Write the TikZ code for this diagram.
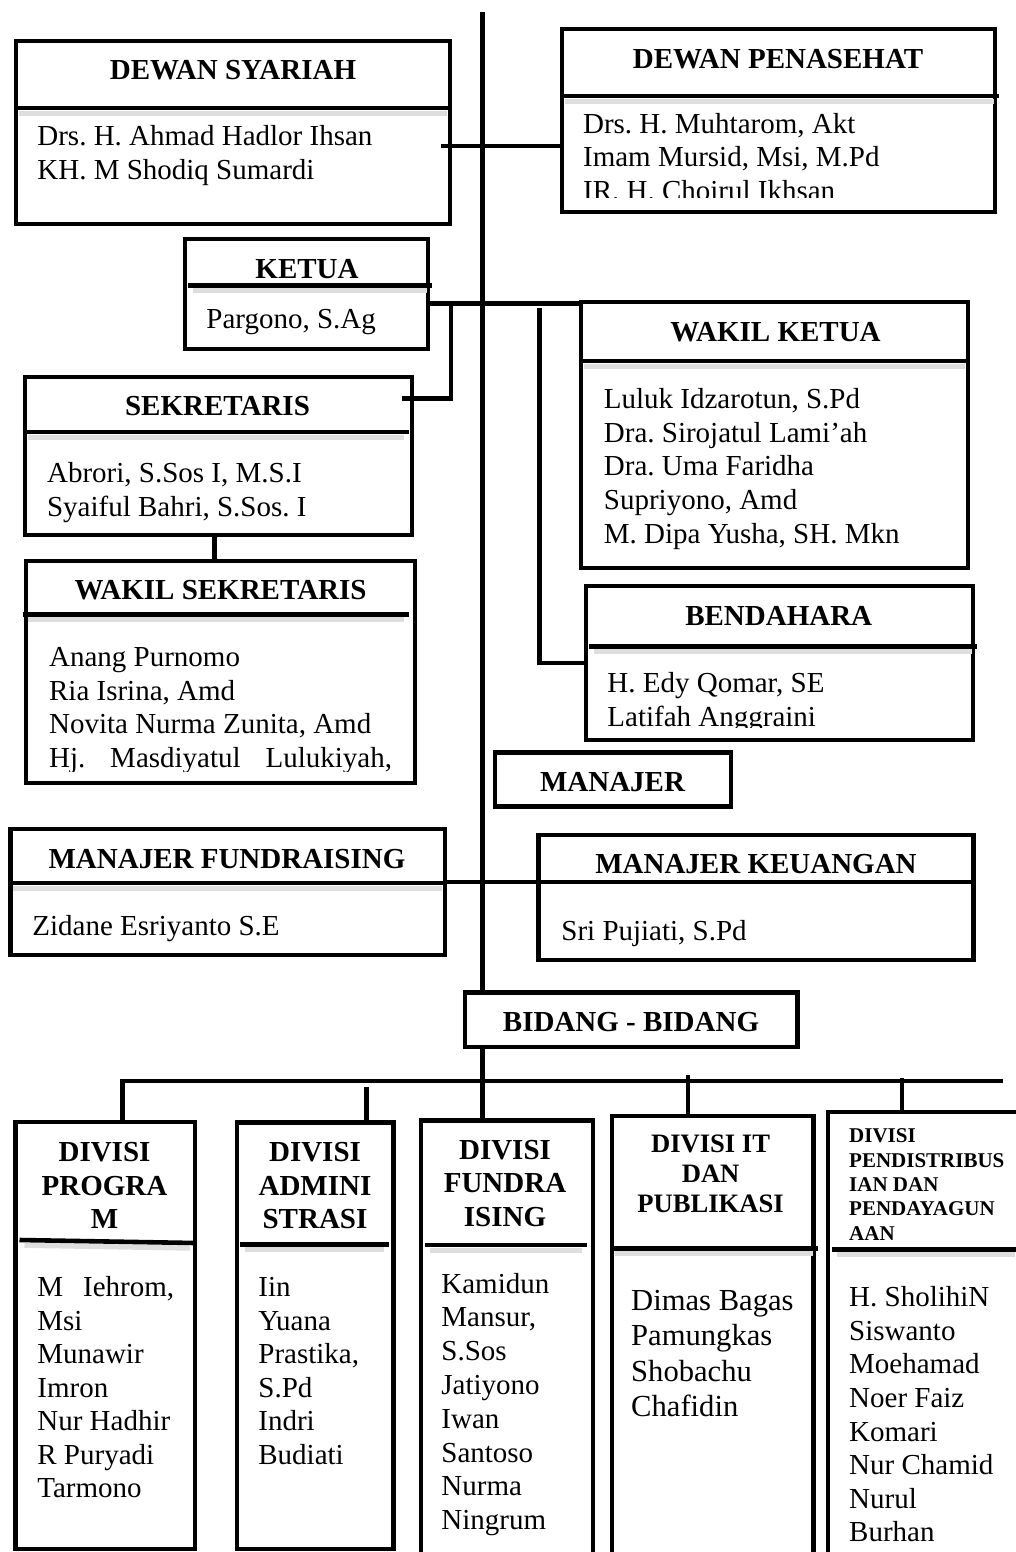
\documentclass[tikz,border=0pt]{standalone}
\usepackage{fontspec}
\setmainfont{Liberation Serif}
\usetikzlibrary{fit}

\newcommand{\bodysize}{\fontsize{14.5}{16.75}\selectfont}
\frenchspacing

\begin{document}
\begin{tikzpicture}[x=0.5pt, y=-0.5pt,
    unitbox/.style={draw, line width=2.2pt, inner sep=0pt},
    divline/.style={line width=2.3pt, preaction={draw=black!13, line width=2.6pt, shorten <=2.5pt, shorten >=2.5pt, transform canvas={yshift=-2.6pt}}},
    linkline/.style={line width=2.2pt},
    spineline/.style={line width=2.1pt},
    headtext/.style={font=\bodysize\bfseries, inner sep=0pt, anchor=base},
    listtext/.style={font=\bodysize, align=left, inner sep=0pt, anchor=base west}]
    \useasboundingbox (0,0) rectangle (1016,1552);
    \coordinate (spinetop) at (482.5,12.5);

    \node[unitbox, fit={(16,41) (450,224)}] (syariah) {};
    \draw[divline] (syariah.west |- 0,108) -- (syariah.east |- 0,108);
    \node[headtext] (syariahhead) at (233,79.3) {DEWAN SYARIAH};
    \node[listtext] (syariahlist) at (37,179.2) {Drs. H. Ahmad Hadlor Ihsan\\KH. M Shodiq Sumardi};

    \node[unitbox, fit={(562,29) (995,212)}] (penasehat) {};
    \draw[divline] (penasehat.west |- 0,96) -- (999,96);
    \node[headtext] (penasehathead) at (778,68.3) {DEWAN PENASEHAT};
    \begin{scope}
        \clip (564,100) rectangle (993,197);
        \node[listtext] (penasehatlist) at (582.7,200.3) {Drs. H. Muhtarom, Akt\\Imam Mursid, Msi, M.Pd\\IR. H. Choirul Ikhsan};
    \end{scope}

    \node[unitbox, fit={(185,239) (428,349)}] (ketua) {};
    \draw[divline] (188,285.5) -- (431.5,285.5);
    \node[headtext] (ketuahead) at (307,278.5) {KETUA};
    \node[listtext] (ketualist) at (206,328.5) {Pargono, S.Ag};

    \node[unitbox, fit={(581,302) (968,568)}] (wakilketua) {};
    \draw[divline] (wakilketua.west |- 0,361) -- (wakilketua.east |- 0,361);
    \node[headtext] (wakilketuahead) at (775.5,341.7) {WAKIL KETUA};
    \node[listtext, font=\fontsize{14.5}{16.85}\selectfont] (wakilketualist) at (603.5,543.1) {Luluk Idzarotun, S.Pd\\Dra. Sirojatul Lami’ah\\Dra. Uma Faridha\\Supriyono, Amd\\M. Dipa Yusha, SH. Mkn};

    \node[unitbox, fit={(25,377) (412,535)}] (sekretaris) {};
    \draw[divline] (22.7,432) -- (409,432);
    \node[headtext] (sekretarishead) at (217.5,415) {SEKRETARIS};
    \node[listtext] (sekretarislist) at (46.7,516.2) {Abrori, S.Sos I, M.S.I\\Syaiful Bahri, S.Sos. I};

    \node[unitbox, fit={(26,561) (415,783)}] (wakilsek) {};
    \draw[divline] (22.7,614.5) -- (409,614.5);
    \node[headtext] (wakilsekhead) at (220.6,599.5) {WAKIL SEKRETARIS};
    \begin{scope}
        \clip (28,620) rectangle (413,771);
        \node[listtext] (wakilseklist) at (48.7,767.2) {Anang Purnomo\\Ria Isrina, Amd\\Novita Nurma Zunita, Amd\\\makebox[171.5pt][s]{Hj. Masdiyatul Lulukiyah,}};
    \end{scope}

    \node[unitbox, fit={(586,586) (973,740)}] (bendahara) {};
    \draw[divline] (589,646.5) -- (977,646.5);
    \node[headtext] (bendaharahead) at (778.7,625) {BENDAHARA};
    \begin{scope}
        \clip (588,650) rectangle (971,727);
        \node[listtext] (bendaharalist) at (607,726.2) {H. Edy Qomar, SE\\Latifah Anggraini};
    \end{scope}

    \node[unitbox, fit={(495,752.5) (731,806.5)}] (manajer) {};
    \node[headtext] (manajerhead) at (612.5,791.7) {MANAJER};

    \node[unitbox, fit={(10.5,829) (445,955)}] (mfund) {};
    \draw[divline] (mfund.west |- 0,883) -- (mfund.east |- 0,883);
    \node[headtext] (mfundhead) at (227,868) {MANAJER FUNDRAISING};
    \node[listtext] (mfundlist) at (32,935) {Zidane Esriyanto S.E};

    \node[unitbox, fit={(538.6,835) (973.4,960)}] (keuangan) {};
    \node[headtext] (keuanganhead) at (756,873) {MANAJER KEUANGAN};
    \node[listtext] (keuanganlist) at (561,940) {Sri Pujiati, S.Pd};

    \node[unitbox, fit={(465,992.5) (797.5,1047)}] (bidang) {};
    \node[headtext] (bidanghead) at (631,1031.7) {BIDANG - BIDANG};

    \node[unitbox, fit={(15.5,1122) (195,1549)}] (dprog) {};
    \draw[divline] (19.5,1240) -- (195,1243);
    \node[headtext, align=center] (dproghead) at (104.5,1228.7) {DIVISI\\PROGRA\\M};
    \node[listtext] (dproglist) at (37,1497.7) {M\hspace{10pt}Iehrom,\\Msi\\Munawir\\Imron\\Nur Hadhir\\R Puryadi\\Tarmono};

    \node[unitbox, fit={(237,1122.5) (393.5,1549)}] (dadmin) {};
    \draw[divline] (240,1244.5) -- (389,1244.5);
    \node[headtext, align=center] (dadminhead) at (315,1228.7) {DIVISI\\ADMINI\\STRASI};
    \node[listtext] (dadminlist) at (258,1464.2) {Iin\\Yuana\\Prastika,\\S.Pd\\Indri\\Budiati};

    \node[unitbox, fit={(421,1120.5) (593,1562)}] (dfund) {};
    \draw[divline] (425,1245) -- (587,1245);
    \node[headtext, align=center] (dfundhead) at (505,1226) {DIVISI\\FUNDRA\\ISING};
    \node[listtext, font=\fontsize{14.5}{16.9}\selectfont] (dfundlist) at (441,1529.6) {Kamidun\\Mansur,\\S.Sos\\Jatiyono\\Iwan\\Santoso\\Nurma\\Ningrum};

    \node[unitbox, fit={(612,1116) (813.5,1562)}] (dit) {};
    \draw[divline] (610,1248.5) -- (817.6,1248.5);
    \node[headtext, align=center, font=\fontsize{13.3}{15}\selectfont\bfseries] (dithead) at (710.6,1212.7) {DIVISI IT\\DAN\\PUBLIKASI};
    \node[listtext, font=\fontsize{15.3}{17.75}\selectfont] (ditlist) at (630.8,1416.5) {Dimas Bagas\\Pamungkas\\Shobachu\\Chafidin};

    \node[unitbox, fit={(828,1112) (1030,1562)}] (ddist) {};
    \draw[divline] (832,1249.5) -- (1020,1249.5);
    \node[headtext, anchor=base west, align=left, font=\fontsize{10.5}{12.2}\selectfont\bfseries] (ddisthead) at (848.8,1240.3) {DIVISI\\PENDISTRIBUS\\IAN DAN\\PENDAYAGUN\\AAN};
    \node[listtext, font=\fontsize{14.5}{16.8}\selectfont] (ddistlist) at (848.8,1541.9) {H. SholihiN\\Siswanto\\Moehamad\\Noer Faiz\\Komari\\Nur Chamid\\Nurul\\Burhan};

    \coordinate (mjoin) at (445,882);
    \draw[linkline] (mjoin) -- (mjoin -| keuangan.east);
    \draw[spineline] (spinetop) -- (spinetop |- bidang.north);
    \draw[spineline] (spinetop |- bidang.south) -- (spinetop |- dfund.north);
    \coordinate (syjoin) at (441,146);
    \draw[linkline] (syjoin) -- (syjoin -| penasehat.west);
    \coordinate (kjoin) at (428,303.5);
    \draw[linkline] (kjoin) -- (kjoin -| wakilketua.west);
    \coordinate (kdrop) at (451,303.5);
    \coordinate (sjoin) at (402,398.3);
    \draw[linkline] (kdrop) |- (sjoin);
    \draw[linkline] ([xshift=-2pt]sekretaris.south) -- ([xshift=-2pt]sekretaris.south |- wakilsek.north);
    \coordinate (bdrop) at (539.5,308);
    \draw[linkline] (bdrop) |- (bendahara.west);
    \coordinate (busleft) at (122.5,1081);
    \coordinate (busright) at (1003,1081);
    \draw[linkline] (busright) -- (busleft) -- (busleft |- dprog.north);
    \foreach \dropx/\dropy/\divbox in {366.5/1087/dadmin, 688/1075/dit, 902/1078/ddist}
        \draw[linkline] (\dropx,\dropy) -- (\dropx,\dropy |- \divbox.north);
\end{tikzpicture}
\end{document}
